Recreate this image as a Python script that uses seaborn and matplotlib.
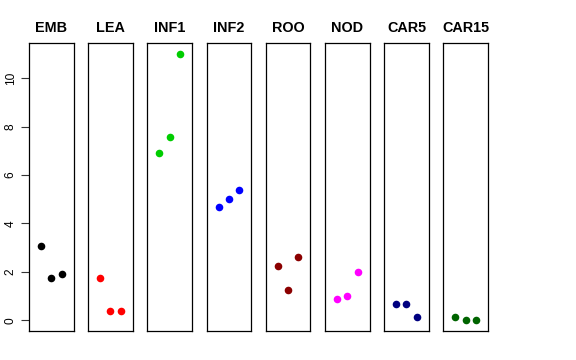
import matplotlib
matplotlib.use("Agg")
import numpy as np
import pandas as pd
import matplotlib.pyplot as plt
import seaborn as sns

sns.set_style("white")
plt.rcParams['font.family'] = ['Liberation Sans', 'DejaVu Sans']
plt.rcParams['text.color'] = 'black'
plt.rcParams['ytick.color'] = 'black'
plt.rcParams['ytick.labelcolor'] = 'black'

# Data
tissues = ["EMB", "LEA", "INF1", "INF2", "ROO", "NOD", "CAR5", "CAR15"]
colors = ["#000000", "#FF0000", "#00CD00", "#0000FF", "#8B0000", "#FF00FF", "#000080", "#006400"]
replicate = [1, 2, 3]
emb = [3.08, 1.76, 1.91]
lea = [1.75, 0.37, 0.37]
inf1 = [6.93, 7.59, 11.0]
inf2 = [4.69, 5.03, 5.40]
roo = [2.24, 1.25, 2.61]
nod = [0.87, 0.99, 2.01]
car5 = [0.68, 0.69, 0.15]
car15 = [0.12, 0.02, 0.02]
values = [emb, lea, inf1, inf2, roo, nod, car5, car15]
y_ticks = [0, 2, 4, 6, 8, 10]

W, H = 576, 360
fig = plt.figure(figsize=(W / 100, H / 100), dpi=100)

left0, step, width = 29, 59.2, 44.5
top, bottom = 43.3, 331

ymin, ymax = -0.44, 11.44
for i, (name, vals, col) in enumerate(zip(tissues, values, colors)):
    x0 = left0 + i * step
    ax = fig.add_axes([x0 / W, 1 - bottom / H, width / W, (bottom - top) / H])
    df = pd.DataFrame({"rep": replicate, "val": vals})
    sns.scatterplot(data=df, x="rep", y="val", color=col, s=30, edgecolor=col,
                    linewidth=0, ax=ax)
    ax.set_xlim(-0.16, 4.16)
    ax.set_ylim(ymin, ymax)
    ax.set_xticks([])
    ax.set_xlabel("")
    ax.set_ylabel("")
    for sp in ax.spines.values():
        sp.set_visible(True)
        sp.set_color("black")
        sp.set_linewidth(0.9)
    ax.set_title(name, fontsize=10.4, fontweight="bold", pad=8, color="black")
    if i == 0:
        ax.set_yticks(y_ticks)
        ax.set_yticklabels([str(t) for t in y_ticks], rotation=90, va="center",
                           fontsize=8.6, color="black")
        ax.tick_params(axis="y", left=True, length=5.8, width=0.8, pad=3,
                       color="#333333")
    else:
        ax.set_yticks([])

fig.savefig("out.png", dpi=100)
